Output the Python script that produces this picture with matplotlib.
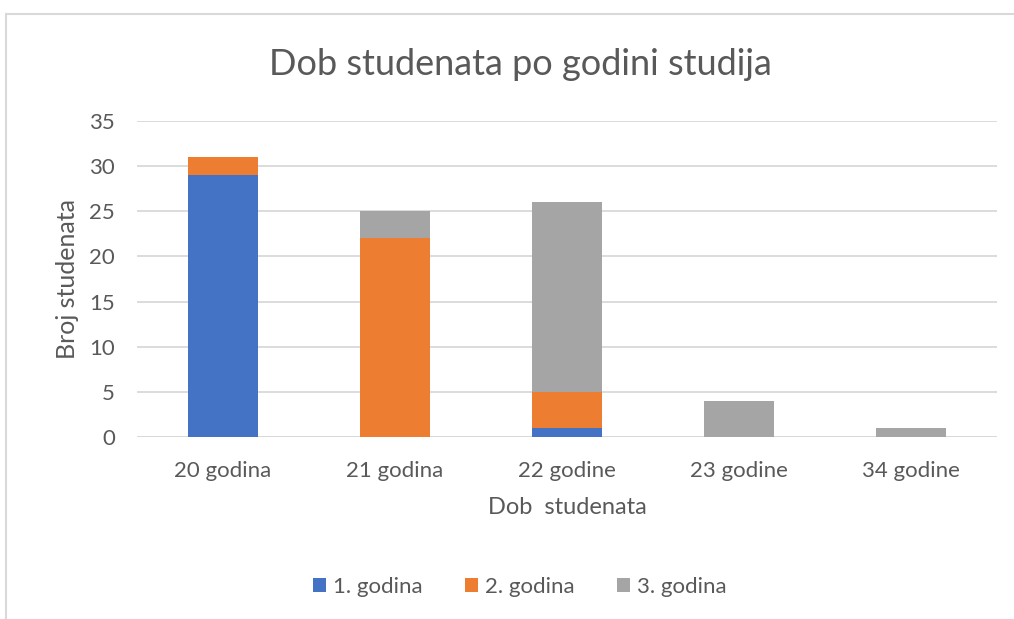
import matplotlib.pyplot as plt
from matplotlib.lines import Line2D
import numpy as np

plt.rcParams['font.family'] = ['Lato', 'DejaVu Sans']

categories = ["20 godina", "21 godina", "22 godine", "23 godine", "34 godine"]
prva = [29, 0, 1, 0, 0]
druga = [2, 22, 4, 0, 0]
treca = [0, 3, 21, 4, 1]
series_names = ["1. godina", "2. godina", "3. godina"]
colors = ["#4472C4", "#ED7D31", "#A5A5A5"]

fig = plt.figure(figsize=(10.14, 6.19), dpi=100)
ax = fig.add_axes([137 / 1014, (619 - 437) / 619, 860 / 1014, 316 / 619])

x = np.arange(len(categories))
bottom = np.zeros(len(categories))
for vals, name, c in zip([prva, druga, treca], series_names, colors):
    ax.bar(x, vals, width=0.41, bottom=bottom, color=c, label=name, zorder=3)
    bottom += np.array(vals)

ax.set_xlim(-0.5, 4.5)
ax.set_ylim(0, 35)
ax.set_yticks(range(0, 36, 5))
ax.set_xticks(x)
ax.set_xticklabels(categories)
ax.yaxis.grid(True, color="#d9d9d9", linewidth=1.3, zorder=0)
for s in ax.spines.values():
    s.set_visible(False)
ax.axhline(0, color="#d9d9d9", linewidth=1.3, zorder=1)
ax.tick_params(length=0, labelsize=16, labelcolor="#595959")
ax.tick_params(axis="x", pad=17)
ax.tick_params(axis="y", pad=16)

ax.set_xlabel("Dob  studenata", fontsize=17, color="#595959", labelpad=12)
ax.set_ylabel("Broj studenata", fontsize=18, color="#595959", labelpad=7)
fig.text(0.513, 0.895, "Dob studenata po godini studija", ha="center", va="center",
         fontsize=26, color="#595959")

ax.legend(loc="center", bbox_to_anchor=(0.445, -0.475), ncol=3, frameon=False,
          fontsize=16, labelcolor="#595959", handlelength=0.6, handleheight=0.6,
          handletextpad=0.3, columnspacing=1.9)

# outer chart border
fig.add_artist(Line2D([6 / 1014, 1], [1 - 14 / 619, 1 - 14 / 619], color="#d9d9d9", linewidth=1.5))
fig.add_artist(Line2D([6 / 1014, 6 / 1014], [0, 1 - 14 / 619], color="#d9d9d9", linewidth=1.5))

fig.savefig("out.png", dpi=100)
